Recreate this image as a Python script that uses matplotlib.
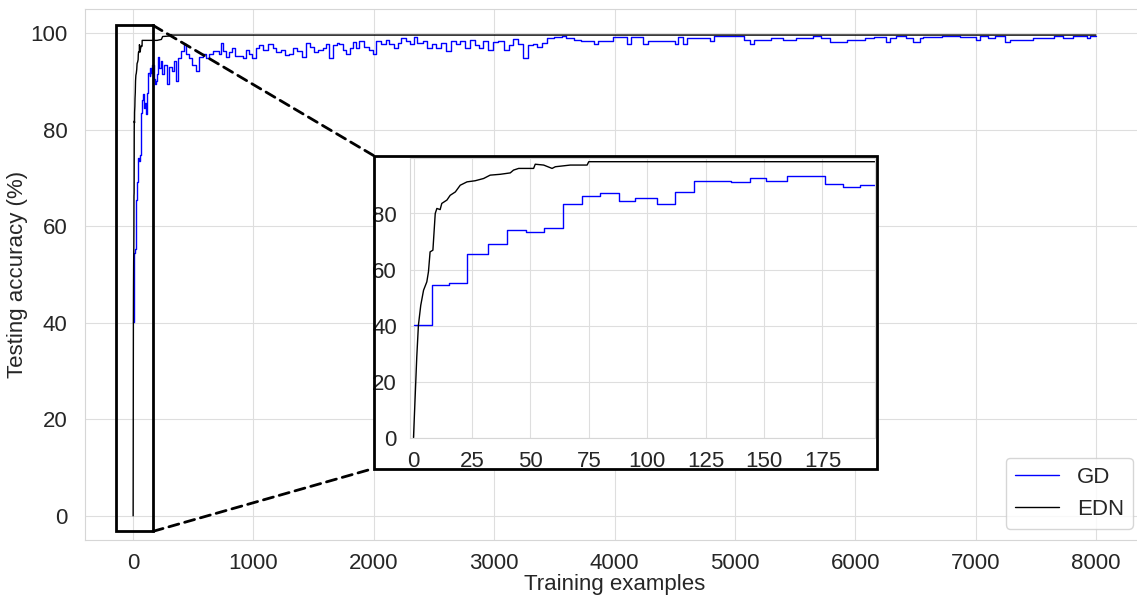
import matplotlib
matplotlib.use('Agg')
import matplotlib.pyplot as plt
import seaborn as sns
from matplotlib.patches import Rectangle, ConnectionPatch

sns.set_style('whitegrid', {'grid.color': '#dedede', 'axes.edgecolor': '#d6d6d6'})
plt.rcParams['font.family'] = ['Liberation Sans', 'DejaVu Sans']

# ---------------- data ----------------
# GD testing accuracy (step function): breakpoints x, values y
gd_x = [0, 8, 15, 23, 32, 40, 48, 56, 64, 72, 80, 88, 95, 104, 112, 120, 136, 144, 151, 160, 176, 184, 191,
        200, 205, 216, 230, 244, 260, 280, 299, 320, 340, 355, 375, 400, 420, 440, 466, 490, 521, 545, 577,
        605, 632, 660, 687, 712, 730, 743, 770, 800, 825, 850, 881, 910, 935, 960, 990, 1020, 1050, 1080,
        1120, 1159, 1190, 1230, 1260, 1297, 1330, 1360, 1400, 1436, 1470, 1500, 1540, 1575, 1600, 1630,
        1660, 1690, 1713, 1740, 1770, 1800, 1830, 1852, 1880, 1920, 1960, 1991, 2020, 2060, 2100, 2129,
        2170, 2200, 2230, 2268, 2300, 2330, 2360, 2406, 2440, 2480, 2520, 2560, 2600, 2640, 2683, 2720,
        2760, 2800, 2840, 2877, 2910, 2950, 2990, 3030, 3080, 3120, 3160, 3200, 3240, 3280, 3320, 3360,
        3400, 3440, 3500, 3560, 3600, 3660, 3720, 3780, 3830, 3860, 3986, 4100, 4135, 4240, 4280, 4500,
        4530, 4570, 4600, 4790, 4830, 5080, 5130, 5160, 5300, 5400, 5510, 5650, 5720, 5790, 5930, 6080,
        6160, 6260, 6290, 6343, 6426, 6480, 6537, 6565, 6720, 6870, 7008, 7036, 7105, 7160, 7243, 7285,
        7480, 7650, 7730, 7812, 7923, 7950, 8000]
gd_y = [40.1, 54.4, 55.3, 65.5, 69.1, 74.2, 73.5, 74.7, 83.4, 86.1, 87.4, 84.4, 85.6, 83.3, 87.7, 91.7, 91.1,
        92.8, 91.7, 93.4, 90.6, 89.4, 90.1,
        91.5, 95.0, 92.8, 94.2, 91.5, 93.5, 89.4, 93.0, 92.2, 94.2, 90.1, 94.9, 96.3, 97.7, 95.6, 94.9,
        93.5, 92.2, 95.0, 95.6, 94.9, 95.6, 96.3, 96.3, 95.6, 98.0, 96.3, 95.0, 96.0, 97.0, 95.3, 95.2,
        94.9, 96.6, 95.6, 94.9, 97.0, 97.5, 96.5, 97.7, 97.0, 96.0, 96.5, 95.5, 95.6, 97.0, 96.3, 95.0,
        98.0, 97.2, 96.0, 96.5, 97.0, 97.7, 94.9, 97.5, 98.0, 97.7, 96.5, 95.6, 97.0, 98.2, 97.0, 98.4,
        97.2, 96.5, 95.6, 98.4, 97.7, 98.6, 97.7, 97.0, 98.0, 99.0, 98.4, 97.7, 99.3, 98.0, 98.4, 97.0,
        97.7, 97.0, 98.0, 96.3, 98.4, 97.7, 98.4, 97.0, 98.6, 97.5, 97.0, 98.4, 96.5, 98.2, 98.4, 96.5,
        97.5, 98.8, 97.8, 94.9, 97.5, 97.8, 97.2, 98.0, 99.0, 99.1, 99.5, 99.0, 98.6, 98.4, 98.4, 97.7,
        98.3, 99.2, 97.7, 99.2, 97.7, 98.4, 97.7, 99.2, 97.7, 98.9, 98.4, 99.5, 98.6, 97.7, 98.6, 98.9,
        98.6, 99.0, 99.5, 98.9, 98.2, 98.6, 99.0, 99.2, 98.1, 99.0, 99.5, 99.0, 98.1, 99.0, 99.2, 99.4,
        99.2, 98.6, 99.5, 99.0, 99.5, 98.1, 98.6, 99.0, 99.5, 99.0, 99.5, 99.0, 99.5, 99.5]

# EDN testing accuracy
edn_x = [0, 1.4, 2.1, 3.1, 4.3, 5.7, 6.4, 7.1, 8.3, 9.3, 10, 11.4, 12.1, 14.3, 15.7, 17.9, 20, 22.9,
         26.4, 30, 32.8, 37.1, 41.4, 42.8, 45, 51.4, 52.1, 55.7, 59.3, 60.7, 67.1, 74.3, 75, 199,
         235, 245, 300, 310, 330, 8000]
edn_y = [0, 28.8, 40.1, 47.2, 52.6, 55.6, 59.2, 66.3, 66.9, 80.0, 81.8, 81.4, 83.6, 84.8, 86.5, 87.7,
         90.1, 91.3, 91.7, 92.5, 93.7, 94.0, 94.5, 95.5, 96.1, 96.1, 97.6, 97.3, 96.1, 96.7, 97.3, 97.3,
         98.5, 98.5, 98.7, 99.3, 99.4, 99.7, 99.6, 99.6]

series_labels = ['GD', 'EDN']
x_ticks = [0, 1000, 2000, 3000, 4000, 5000, 6000, 7000, 8000]
y_ticks = [0, 20, 40, 60, 80, 100]
inset_x_ticks = [0, 25, 50, 75, 100, 125, 150, 175]
inset_y_ticks = [0, 20, 40, 60, 80]

FS = 16
TXT = '#262626'

# ---------------- figure ----------------
W, H = 1137, 597
fig = plt.figure(figsize=(W / 100, H / 100), dpi=100)

ax = fig.add_axes([85 / W, 57 / H, 1059 / W, 531 / H])
ax.set_zorder(0)
ax.plot(gd_x, gd_y, color='blue', lw=1.0, drawstyle='steps-post', label=series_labels[0])
ax.plot(edn_x, edn_y, color='black', lw=1.0, label=series_labels[1])
ax.set_xlim(-400, 8400)
ax.set_ylim(-5, 105)
ax.set_xticks(x_ticks)
ax.set_yticks(y_ticks)
ax.tick_params(axis='both', labelsize=FS, colors=TXT)
ax.tick_params(axis='x', pad=6)
ax.tick_params(axis='y', pad=9)
ax.set_xlabel('Training examples', fontsize=FS, color=TXT, labelpad=0)
ax.set_ylabel('Testing accuracy (%)', fontsize=FS, color=TXT, labelpad=2)
ax.legend(loc='lower right', fontsize=FS)

# zoom rectangle in main axes
ax.add_patch(Rectangle((-145, -3.2), 311, 104.8, fill=False, ec='black', lw=2, zorder=5))

# inset frame (figure coords)
fl, fr, ft, fb = 373.5, 877, 155.5, 468.5
frame_fill = Rectangle((fl / W, 1 - fb / H), (fr - fl) / W, (fb - ft) / H,
                       transform=fig.transFigure, facecolor='white', edgecolor='none', zorder=1)
fig.add_artist(frame_fill)

# inset axes
iax = fig.add_axes([410 / W, 1 - 437.5 / H, 465 / W, 280 / H])
iax.set_zorder(2)
iax.plot(gd_x, gd_y, color='blue', lw=1.0, drawstyle='steps-post')
iax.plot(edn_x, edn_y, color='black', lw=1.0)
iax.set_xlim(-1.5, 197.5)
iax.set_ylim(0, 100)
iax.set_xticks(inset_x_ticks)
iax.set_yticks(inset_y_ticks)
iax.tick_params(axis='both', labelsize=FS, colors=TXT, pad=6)

frame_edge = Rectangle((fl / W, 1 - fb / H), (fr - fl) / W, (fb - ft) / H,
                       transform=fig.transFigure, fill=False, edgecolor='black', lw=2, zorder=3)
fig.add_artist(frame_edge)

# connector lines
for ya, yb in [(101.6, ft), (-3.2, fb)]:
    con = ConnectionPatch(xyA=(166, ya), coordsA=ax.transData,
                          xyB=(fl / W, 1 - yb / H), coordsB=fig.transFigure,
                          color='black', lw=2, linestyle=(0, (3.7, 2.2)), zorder=3)
    fig.add_artist(con)

fig.savefig('out.png', dpi=100)
